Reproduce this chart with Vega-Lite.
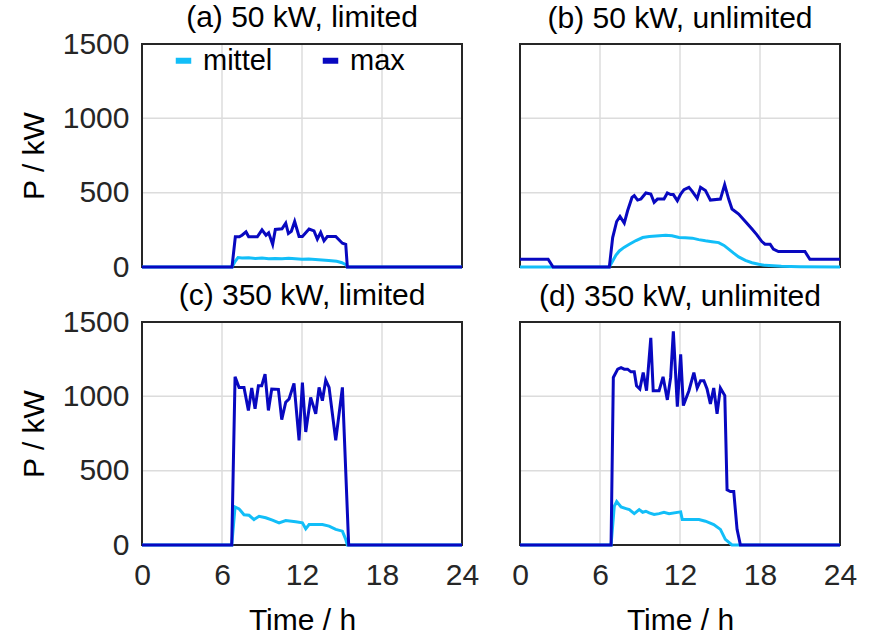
{
  "$schema": "https://vega.github.io/schema/vega-lite/v6.json",
  "background": "white",
  "padding": {"left": 19, "top": 3, "right": 5, "bottom": 2},
  "bounds": "flush",
  "spacing": {"row": 55, "column": 58},
  "columns": 2,
  "config": {
    "font": "Liberation Sans",
    "view": {"stroke": null},
    "axis": {
      "domain": false,
      "grid": false,
      "ticks": false,
      "labelFlush": false,
      "labelFont": "Liberation Sans",
      "labelFontSize": 30,
      "labelColor": "#262626",
      "titleFont": "Liberation Sans",
      "titleFontSize": 30,
      "titleFontWeight": "normal",
      "titleColor": "#000000"
    },
    "axisX": {"labelPadding": 15, "titlePadding": 15},
    "axisY": {"labelPadding": 13, "titlePadding": 13},
    "title": {"font": "Liberation Sans", "fontSize": 30, "fontWeight": "normal", "color": "#000000", "offset": 9, "frame": "group"},
    "legend": {
      "orient": "none",
      "legendX": 27,
      "legendY": 2,
      "direction": "horizontal",
      "symbolType": "stroke",
      "symbolSize": 240,
      "symbolStrokeWidth": 6,
      "labelFont": "Liberation Sans",
      "labelFontSize": 29,
      "labelColor": "#000000",
      "labelOffset": 5,
      "columnPadding": 37
    }
  },
  "resolve": {"legend": {"color": "independent"}},
  "datasets": {
    "frame": [{"t": 0, "t2": 24, "P": 0, "P2": 1500}],
    "gx": [{"t": 6}, {"t": 12}, {"t": 18}],
    "gy": [{"P": 500}, {"P": 1000}],
    "a": [
      {"s": "mittel", "t": 0, "P": 0}, {"s": "mittel", "t": 6.75, "P": 0}, {"s": "mittel", "t": 7.0, "P": 40}, {"s": "mittel", "t": 7.2, "P": 63},
      {"s": "mittel", "t": 7.5, "P": 60}, {"s": "mittel", "t": 8.0, "P": 62}, {"s": "mittel", "t": 8.5, "P": 58}, {"s": "mittel", "t": 9.0, "P": 60},
      {"s": "mittel", "t": 9.5, "P": 56}, {"s": "mittel", "t": 10.0, "P": 57}, {"s": "mittel", "t": 10.5, "P": 55}, {"s": "mittel", "t": 11.0, "P": 58},
      {"s": "mittel", "t": 11.5, "P": 55}, {"s": "mittel", "t": 12.0, "P": 52}, {"s": "mittel", "t": 12.5, "P": 53}, {"s": "mittel", "t": 13.0, "P": 50},
      {"s": "mittel", "t": 13.5, "P": 47}, {"s": "mittel", "t": 14.0, "P": 44}, {"s": "mittel", "t": 14.6, "P": 38}, {"s": "mittel", "t": 15.0, "P": 29},
      {"s": "mittel", "t": 15.3, "P": 15}, {"s": "mittel", "t": 15.4, "P": 0}, {"s": "mittel", "t": 24, "P": 0},
      {"s": "max", "t": 0, "P": 0}, {"s": "max", "t": 6.75, "P": 0}, {"s": "max", "t": 7.0, "P": 203}, {"s": "max", "t": 7.3, "P": 203},
      {"s": "max", "t": 7.5, "P": 214}, {"s": "max", "t": 7.8, "P": 236}, {"s": "max", "t": 8.0, "P": 203}, {"s": "max", "t": 8.65, "P": 203},
      {"s": "max", "t": 9.0, "P": 250}, {"s": "max", "t": 9.3, "P": 214}, {"s": "max", "t": 9.5, "P": 230}, {"s": "max", "t": 9.8, "P": 152},
      {"s": "max", "t": 10.0, "P": 253}, {"s": "max", "t": 10.5, "P": 257}, {"s": "max", "t": 10.78, "P": 295}, {"s": "max", "t": 10.98, "P": 225},
      {"s": "max", "t": 11.2, "P": 240}, {"s": "max", "t": 11.45, "P": 306}, {"s": "max", "t": 11.78, "P": 205}, {"s": "max", "t": 12.03, "P": 205},
      {"s": "max", "t": 12.53, "P": 255}, {"s": "max", "t": 12.9, "P": 243}, {"s": "max", "t": 13.15, "P": 187}, {"s": "max", "t": 13.4, "P": 232},
      {"s": "max", "t": 13.65, "P": 176}, {"s": "max", "t": 13.9, "P": 205}, {"s": "max", "t": 14.53, "P": 205}, {"s": "max", "t": 15.03, "P": 160},
      {"s": "max", "t": 15.28, "P": 153}, {"s": "max", "t": 15.4, "P": 0}, {"s": "max", "t": 24, "P": 0}
    ],
    "b": [
      {"s": "mittel", "t": 0, "P": 0}, {"s": "mittel", "t": 6.7, "P": 0}, {"s": "mittel", "t": 6.95, "P": 40}, {"s": "mittel", "t": 7.2, "P": 80},
      {"s": "mittel", "t": 7.45, "P": 108}, {"s": "mittel", "t": 7.8, "P": 132}, {"s": "mittel", "t": 8.2, "P": 153}, {"s": "mittel", "t": 8.7, "P": 178},
      {"s": "mittel", "t": 9.2, "P": 198}, {"s": "mittel", "t": 9.7, "P": 205}, {"s": "mittel", "t": 10.2, "P": 209}, {"s": "mittel", "t": 10.93, "P": 214},
      {"s": "mittel", "t": 11.4, "P": 210}, {"s": "mittel", "t": 11.93, "P": 198}, {"s": "mittel", "t": 12.4, "P": 197}, {"s": "mittel", "t": 12.92, "P": 194},
      {"s": "mittel", "t": 13.4, "P": 184}, {"s": "mittel", "t": 13.91, "P": 176}, {"s": "mittel", "t": 14.4, "P": 170}, {"s": "mittel", "t": 14.9, "P": 164},
      {"s": "mittel", "t": 15.3, "P": 145}, {"s": "mittel", "t": 15.65, "P": 120}, {"s": "mittel", "t": 16.0, "P": 95}, {"s": "mittel", "t": 16.4, "P": 68},
      {"s": "mittel", "t": 16.9, "P": 45}, {"s": "mittel", "t": 17.4, "P": 29}, {"s": "mittel", "t": 17.9, "P": 18}, {"s": "mittel", "t": 18.38, "P": 11},
      {"s": "mittel", "t": 19.6, "P": 5}, {"s": "mittel", "t": 21, "P": 2}, {"s": "mittel", "t": 24, "P": 0},
      {"s": "max", "t": 0, "P": 52}, {"s": "max", "t": 2.11, "P": 52}, {"s": "max", "t": 2.48, "P": 0}, {"s": "max", "t": 6.7, "P": 0},
      {"s": "max", "t": 6.95, "P": 198}, {"s": "max", "t": 7.25, "P": 306}, {"s": "max", "t": 7.5, "P": 340}, {"s": "max", "t": 7.82, "P": 295},
      {"s": "max", "t": 8.07, "P": 378}, {"s": "max", "t": 8.4, "P": 468}, {"s": "max", "t": 8.57, "P": 480}, {"s": "max", "t": 8.82, "P": 450},
      {"s": "max", "t": 9.07, "P": 457}, {"s": "max", "t": 9.44, "P": 498}, {"s": "max", "t": 9.81, "P": 491}, {"s": "max", "t": 10.06, "P": 435},
      {"s": "max", "t": 10.31, "P": 457}, {"s": "max", "t": 10.8, "P": 457}, {"s": "max", "t": 11.05, "P": 498}, {"s": "max", "t": 11.3, "P": 487},
      {"s": "max", "t": 11.5, "P": 487}, {"s": "max", "t": 11.8, "P": 446}, {"s": "max", "t": 12.05, "P": 491}, {"s": "max", "t": 12.3, "P": 520},
      {"s": "max", "t": 12.67, "P": 536}, {"s": "max", "t": 12.92, "P": 509}, {"s": "max", "t": 13.29, "P": 462}, {"s": "max", "t": 13.54, "P": 536},
      {"s": "max", "t": 13.91, "P": 514}, {"s": "max", "t": 14.28, "P": 450}, {"s": "max", "t": 15.03, "P": 457}, {"s": "max", "t": 15.35, "P": 554},
      {"s": "max", "t": 15.65, "P": 457}, {"s": "max", "t": 15.9, "P": 390}, {"s": "max", "t": 16.4, "P": 356}, {"s": "max", "t": 16.9, "P": 306},
      {"s": "max", "t": 17.4, "P": 255}, {"s": "max", "t": 17.77, "P": 216}, {"s": "max", "t": 18.14, "P": 171}, {"s": "max", "t": 18.38, "P": 153},
      {"s": "max", "t": 18.76, "P": 153}, {"s": "max", "t": 19.0, "P": 120}, {"s": "max", "t": 19.38, "P": 104}, {"s": "max", "t": 21.37, "P": 104},
      {"s": "max", "t": 21.74, "P": 52}, {"s": "max", "t": 24, "P": 52}
    ],
    "c": [
      {"s": "mittel", "t": 0, "P": 0}, {"s": "mittel", "t": 6.73, "P": 0}, {"s": "mittel", "t": 6.98, "P": 256}, {"s": "mittel", "t": 7.28, "P": 243},
      {"s": "mittel", "t": 7.65, "P": 203}, {"s": "mittel", "t": 8.03, "P": 200}, {"s": "mittel", "t": 8.4, "P": 171}, {"s": "mittel", "t": 8.78, "P": 193},
      {"s": "mittel", "t": 9.28, "P": 183}, {"s": "mittel", "t": 9.78, "P": 167}, {"s": "mittel", "t": 10.28, "P": 149}, {"s": "mittel", "t": 10.78, "P": 165},
      {"s": "mittel", "t": 11.53, "P": 156}, {"s": "mittel", "t": 12.03, "P": 149}, {"s": "mittel", "t": 12.28, "P": 109}, {"s": "mittel", "t": 12.53, "P": 138},
      {"s": "mittel", "t": 13.53, "P": 138}, {"s": "mittel", "t": 14.03, "P": 127}, {"s": "mittel", "t": 14.53, "P": 105}, {"s": "mittel", "t": 15.03, "P": 93},
      {"s": "mittel", "t": 15.28, "P": 38}, {"s": "mittel", "t": 15.4, "P": 0}, {"s": "mittel", "t": 24, "P": 0},
      {"s": "max", "t": 0, "P": 0}, {"s": "max", "t": 6.73, "P": 0}, {"s": "max", "t": 6.98, "P": 1131}, {"s": "max", "t": 7.28, "P": 1060},
      {"s": "max", "t": 7.65, "P": 1060}, {"s": "max", "t": 7.98, "P": 905}, {"s": "max", "t": 8.23, "P": 1056}, {"s": "max", "t": 8.48, "P": 916},
      {"s": "max", "t": 8.73, "P": 1071}, {"s": "max", "t": 8.98, "P": 1071}, {"s": "max", "t": 9.23, "P": 1149}, {"s": "max", "t": 9.48, "P": 905},
      {"s": "max", "t": 9.73, "P": 1049}, {"s": "max", "t": 10.23, "P": 1047}, {"s": "max", "t": 10.48, "P": 843}, {"s": "max", "t": 10.78, "P": 960},
      {"s": "max", "t": 11.03, "P": 982}, {"s": "max", "t": 11.4, "P": 1087}, {"s": "max", "t": 11.78, "P": 704}, {"s": "max", "t": 12.03, "P": 1093},
      {"s": "max", "t": 12.28, "P": 760}, {"s": "max", "t": 12.65, "P": 993}, {"s": "max", "t": 13.03, "P": 883}, {"s": "max", "t": 13.28, "P": 1060},
      {"s": "max", "t": 13.53, "P": 971}, {"s": "max", "t": 13.78, "P": 1109}, {"s": "max", "t": 14.03, "P": 1060}, {"s": "max", "t": 14.53, "P": 704},
      {"s": "max", "t": 15.03, "P": 1060}, {"s": "max", "t": 15.5, "P": 0}, {"s": "max", "t": 24, "P": 0}
    ],
    "d": [
      {"s": "mittel", "t": 0, "P": 0}, {"s": "mittel", "t": 6.83, "P": 0}, {"s": "mittel", "t": 7.07, "P": 260}, {"s": "mittel", "t": 7.25, "P": 293},
      {"s": "mittel", "t": 7.58, "P": 256}, {"s": "mittel", "t": 7.95, "P": 245}, {"s": "mittel", "t": 8.2, "P": 238}, {"s": "mittel", "t": 8.57, "P": 211},
      {"s": "mittel", "t": 8.94, "P": 238}, {"s": "mittel", "t": 9.2, "P": 220}, {"s": "mittel", "t": 9.44, "P": 227}, {"s": "mittel", "t": 9.69, "P": 216},
      {"s": "mittel", "t": 10.06, "P": 205}, {"s": "mittel", "t": 10.43, "P": 211}, {"s": "mittel", "t": 10.8, "P": 220}, {"s": "mittel", "t": 11.18, "P": 211},
      {"s": "mittel", "t": 12.05, "P": 223}, {"s": "mittel", "t": 12.17, "P": 171}, {"s": "mittel", "t": 12.92, "P": 171}, {"s": "mittel", "t": 13.42, "P": 171},
      {"s": "mittel", "t": 13.91, "P": 160}, {"s": "mittel", "t": 14.53, "P": 138}, {"s": "mittel", "t": 15.03, "P": 105}, {"s": "mittel", "t": 15.4, "P": 38},
      {"s": "mittel", "t": 15.9, "P": 0}, {"s": "mittel", "t": 24, "P": 0},
      {"s": "max", "t": 0, "P": 0}, {"s": "max", "t": 6.83, "P": 0}, {"s": "max", "t": 7.0, "P": 1127}, {"s": "max", "t": 7.33, "P": 1183},
      {"s": "max", "t": 7.58, "P": 1193}, {"s": "max", "t": 7.82, "P": 1183}, {"s": "max", "t": 8.07, "P": 1183}, {"s": "max", "t": 8.32, "P": 1165},
      {"s": "max", "t": 8.57, "P": 1165}, {"s": "max", "t": 8.74, "P": 1071}, {"s": "max", "t": 8.99, "P": 1049}, {"s": "max", "t": 9.24, "P": 1160},
      {"s": "max", "t": 9.49, "P": 1038}, {"s": "max", "t": 9.81, "P": 1393}, {"s": "max", "t": 9.99, "P": 1038}, {"s": "max", "t": 10.43, "P": 1038},
      {"s": "max", "t": 10.73, "P": 1131}, {"s": "max", "t": 11.05, "P": 976}, {"s": "max", "t": 11.3, "P": 1127}, {"s": "max", "t": 11.5, "P": 1438},
      {"s": "max", "t": 11.8, "P": 931}, {"s": "max", "t": 12.05, "P": 1283}, {"s": "max", "t": 12.25, "P": 938}, {"s": "max", "t": 12.67, "P": 1038},
      {"s": "max", "t": 13.04, "P": 1160}, {"s": "max", "t": 13.29, "P": 1056}, {"s": "max", "t": 13.54, "P": 1105}, {"s": "max", "t": 13.79, "P": 1105},
      {"s": "max", "t": 14.03, "P": 1049}, {"s": "max", "t": 14.28, "P": 949}, {"s": "max", "t": 14.53, "P": 1056}, {"s": "max", "t": 14.78, "P": 883},
      {"s": "max", "t": 15.03, "P": 1056}, {"s": "max", "t": 15.36, "P": 1005}, {"s": "max", "t": 15.53, "P": 371}, {"s": "max", "t": 15.78, "P": 360},
      {"s": "max", "t": 16.03, "P": 360}, {"s": "max", "t": 16.28, "P": 105}, {"s": "max", "t": 16.53, "P": 0}, {"s": "max", "t": 24, "P": 0}
    ]
  },
  "concat": [
    {
      "title": {"text": "(a) 50 kW, limited", "offset": -4},
      "width": 320, "height": 223,
      "layer": [
        {"data": {"name": "gx"}, "mark": {"type": "rule", "color": "#dcdcdc", "strokeWidth": 1.5}, "encoding": {"x": {"field": "t", "type": "quantitative"}}},
        {"data": {"name": "gy"}, "mark": {"type": "rule", "color": "#dcdcdc", "strokeWidth": 1.5}, "encoding": {"y": {"field": "P", "type": "quantitative"}}},
        {"data": {"name": "frame"}, "mark": {"type": "rect", "filled": false, "color": "#262626", "strokeWidth": 2},
          "encoding": {"x": {"field": "t", "type": "quantitative"}, "x2": {"field": "t2"}, "y": {"field": "P", "type": "quantitative"}, "y2": {"field": "P2"}}},
        {"data": {"name": "a"}, "mark": {"type": "line", "strokeWidth": 3},
          "encoding": {
            "x": {"field": "t", "type": "quantitative", "scale": {"domain": [0, 24], "nice": false}, "axis": {"values": [0, 6, 12, 18, 24], "labels": false, "title": null}},
            "y": {"field": "P", "type": "quantitative", "scale": {"domain": [0, 1500], "nice": false}, "axis": {"values": [0, 500, 1000, 1500], "format": "d", "title": "P / kW"}},
            "color": {"field": "s", "type": "nominal", "sort": ["mittel", "max"], "scale": {"domain": ["mittel", "max"], "range": ["#12BEF8", "#0808C0"]},
              "legend": {"title": null, "encode": {"symbols": {"update": {"stroke": {"signal": "datum.value === 'max' ? '#2A00F0' : '#00C0FF'"}}}}}}
          }}
      ]
    },
    {
      "title": "(b) 50 kW, unlimited",
      "width": 320, "height": 223,
      "layer": [
        {"data": {"name": "gx"}, "mark": {"type": "rule", "color": "#dcdcdc", "strokeWidth": 1.5}, "encoding": {"x": {"field": "t", "type": "quantitative"}}},
        {"data": {"name": "gy"}, "mark": {"type": "rule", "color": "#dcdcdc", "strokeWidth": 1.5}, "encoding": {"y": {"field": "P", "type": "quantitative"}}},
        {"data": {"name": "frame"}, "mark": {"type": "rect", "filled": false, "color": "#262626", "strokeWidth": 2},
          "encoding": {"x": {"field": "t", "type": "quantitative"}, "x2": {"field": "t2"}, "y": {"field": "P", "type": "quantitative"}, "y2": {"field": "P2"}}},
        {"data": {"name": "b"}, "mark": {"type": "line", "strokeWidth": 3},
          "encoding": {
            "x": {"field": "t", "type": "quantitative", "scale": {"domain": [0, 24], "nice": false}, "axis": {"values": [0, 6, 12, 18, 24], "labels": false, "title": null}},
            "y": {"field": "P", "type": "quantitative", "scale": {"domain": [0, 1500], "nice": false}, "axis": {"values": [0, 500, 1000, 1500], "labels": false, "title": null}},
            "color": {"field": "s", "type": "nominal", "sort": ["mittel", "max"], "scale": {"domain": ["mittel", "max"], "range": ["#12BEF8", "#0808C0"]}, "legend": null}
          }}
      ]
    },
    {
      "title": {"text": "(c) 350 kW, limited", "offset": -4},
      "width": 320, "height": 223,
      "layer": [
        {"data": {"name": "gx"}, "mark": {"type": "rule", "color": "#dcdcdc", "strokeWidth": 1.5}, "encoding": {"x": {"field": "t", "type": "quantitative"}}},
        {"data": {"name": "gy"}, "mark": {"type": "rule", "color": "#dcdcdc", "strokeWidth": 1.5}, "encoding": {"y": {"field": "P", "type": "quantitative"}}},
        {"data": {"name": "frame"}, "mark": {"type": "rect", "filled": false, "color": "#262626", "strokeWidth": 2},
          "encoding": {"x": {"field": "t", "type": "quantitative"}, "x2": {"field": "t2"}, "y": {"field": "P", "type": "quantitative"}, "y2": {"field": "P2"}}},
        {"data": {"name": "c"}, "mark": {"type": "line", "strokeWidth": 3},
          "encoding": {
            "x": {"field": "t", "type": "quantitative", "scale": {"domain": [0, 24], "nice": false}, "axis": {"values": [0, 6, 12, 18, 24], "title": "Time / h"}},
            "y": {"field": "P", "type": "quantitative", "scale": {"domain": [0, 1500], "nice": false}, "axis": {"values": [0, 500, 1000, 1500], "format": "d", "title": "P / kW"}},
            "color": {"field": "s", "type": "nominal", "sort": ["mittel", "max"], "scale": {"domain": ["mittel", "max"], "range": ["#12BEF8", "#0808C0"]}, "legend": null}
          }}
      ]
    },
    {
      "title": "(d) 350 kW, unlimited",
      "width": 320, "height": 223,
      "layer": [
        {"data": {"name": "gx"}, "mark": {"type": "rule", "color": "#dcdcdc", "strokeWidth": 1.5}, "encoding": {"x": {"field": "t", "type": "quantitative"}}},
        {"data": {"name": "gy"}, "mark": {"type": "rule", "color": "#dcdcdc", "strokeWidth": 1.5}, "encoding": {"y": {"field": "P", "type": "quantitative"}}},
        {"data": {"name": "frame"}, "mark": {"type": "rect", "filled": false, "color": "#262626", "strokeWidth": 2},
          "encoding": {"x": {"field": "t", "type": "quantitative"}, "x2": {"field": "t2"}, "y": {"field": "P", "type": "quantitative"}, "y2": {"field": "P2"}}},
        {"data": {"name": "d"}, "mark": {"type": "line", "strokeWidth": 3},
          "encoding": {
            "x": {"field": "t", "type": "quantitative", "scale": {"domain": [0, 24], "nice": false}, "axis": {"values": [0, 6, 12, 18, 24], "title": "Time / h"}},
            "y": {"field": "P", "type": "quantitative", "scale": {"domain": [0, 1500], "nice": false}, "axis": {"values": [0, 500, 1000, 1500], "labels": false, "title": null}},
            "color": {"field": "s", "type": "nominal", "sort": ["mittel", "max"], "scale": {"domain": ["mittel", "max"], "range": ["#12BEF8", "#0808C0"]}, "legend": null}
          }}
      ]
    }
  ]
}
